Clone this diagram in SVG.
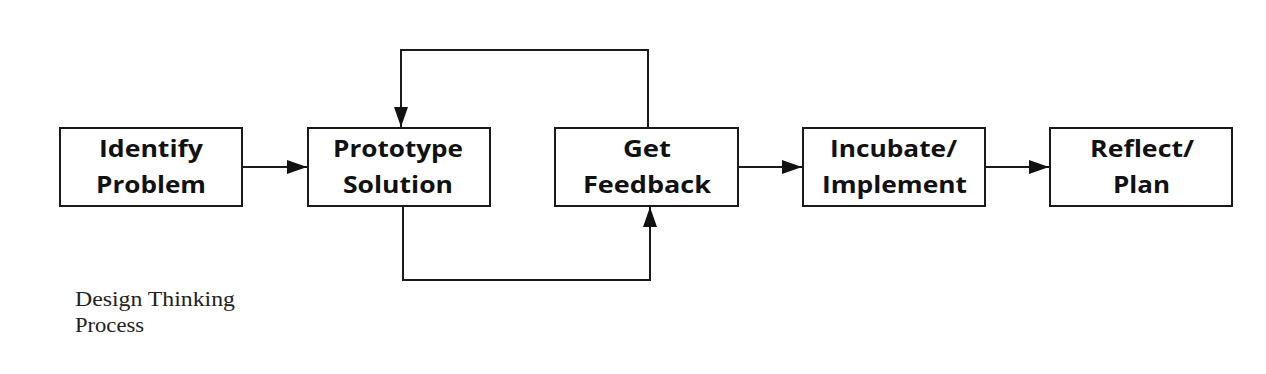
<svg xmlns="http://www.w3.org/2000/svg" width="1266" height="374" viewBox="0 0 1266 374">
<style>
.box{fill:#fff;stroke:#1a1a1a;stroke-width:2}
.lbl{font-family:"Open Sans",Lato,sans-serif;font-weight:700;font-size:24px;fill:#111;text-anchor:middle}
.conn{fill:none;stroke:#1a1a1a;stroke-width:2}
.cap{font-family:"Liberation Serif",serif;font-size:20px;fill:#222}
</style>
<defs>
<marker id="ah" viewBox="0 0 20 14" refX="20" refY="7" markerWidth="20" markerHeight="14" markerUnits="userSpaceOnUse" orient="auto">
<path d="M0,0 L20,7 L0,14 Z" fill="#111"/>
</marker>
</defs>
<rect width="1266" height="374" fill="#fff"/>
<g id="connectors">
<line class="conn" x1="242" y1="167" x2="307" y2="167" marker-end="url(#ah)"/>
<line class="conn" x1="738" y1="167" x2="802" y2="167" marker-end="url(#ah)"/>
<line class="conn" x1="985" y1="167" x2="1049" y2="167" marker-end="url(#ah)"/>
<polyline class="conn" points="648,128 648,50 401,50 401,127" marker-end="url(#ah)"/>
<polyline class="conn" points="403,206 403,280 650,280 650,207" marker-end="url(#ah)"/>
</g>
<g id="identify">
<rect class="box" x="60" y="128" width="182" height="78"/>
<text class="lbl" x="151" y="157" textLength="104" lengthAdjust="spacingAndGlyphs">Identify</text>
<text class="lbl" x="151" y="193" textLength="110" lengthAdjust="spacingAndGlyphs">Problem</text>
</g>
<g id="prototype">
<rect class="box" x="308" y="128" width="182" height="78"/>
<text class="lbl" x="398" y="157" textLength="130" lengthAdjust="spacingAndGlyphs">Prototype</text>
<text class="lbl" x="398" y="193" textLength="110" lengthAdjust="spacingAndGlyphs">Solution</text>
</g>
<g id="feedback">
<rect class="box" x="555" y="128" width="183" height="78"/>
<text class="lbl" x="647" y="157" textLength="48" lengthAdjust="spacingAndGlyphs">Get</text>
<text class="lbl" x="647" y="193" textLength="128" lengthAdjust="spacingAndGlyphs">Feedback</text>
</g>
<g id="incubate">
<rect class="box" x="803" y="128" width="182" height="78"/>
<text class="lbl" x="893.5" y="157" textLength="127" lengthAdjust="spacingAndGlyphs">Incubate/</text>
<text class="lbl" x="894.5" y="193" textLength="145" lengthAdjust="spacingAndGlyphs">Implement</text>
</g>
<g id="reflect">
<rect class="box" x="1050" y="128" width="182" height="78"/>
<text class="lbl" x="1142" y="157" textLength="104" lengthAdjust="spacingAndGlyphs">Reflect/</text>
<text class="lbl" x="1141.5" y="193" textLength="57" lengthAdjust="spacingAndGlyphs">Plan</text>
</g>
<g id="caption">
<text class="cap" x="75" y="306" textLength="160" lengthAdjust="spacingAndGlyphs">Design Thinking</text>
<text class="cap" x="75" y="332" textLength="69" lengthAdjust="spacingAndGlyphs">Process</text>
</g>
</svg>
